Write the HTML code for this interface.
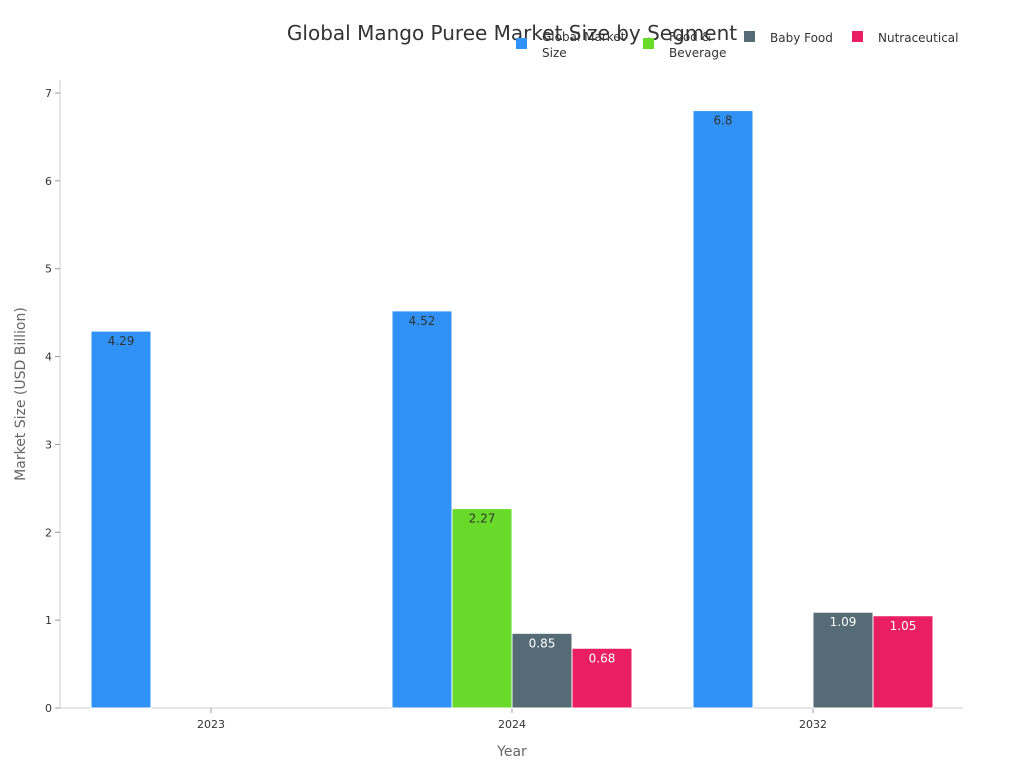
<!DOCTYPE html>
<html><head><meta charset="utf-8"><style>
body{margin:0;background:#fff;font-family:"Liberation Sans","DejaVu Sans",sans-serif;}
</style></head><body>
<svg id="c" width="1024" height="768" xmlns="http://www.w3.org/2000/svg" font-family="DejaVu Sans, Liberation Sans, sans-serif"></svg>
<script>
const categories=["2023","2024","2032"];
const seriesNames=["Global Market Size","Food & Beverage","Baby Food","Nutraceutical"];
const globalMarket=[4.29,4.52,6.8];
const foodBeverage=[null,2.27,null];
const babyFood=[null,0.85,1.09];
const nutraceutical=[null,0.68,1.05];
const yTicks=[0,1,2,3,4,5,6,7];
const series=[globalMarket,foodBeverage,babyFood,nutraceutical];
const colors=["#3092f6","#68db2a","#556b75","#e91e63"];
const labelColors=["#333","#333","#fff","#fff"];
const svg=document.getElementById('c');
const NS="http://www.w3.org/2000/svg";
function mk(t,a,txt){const e=document.createElementNS(NS,t);for(const k in a)e.setAttribute(k,a[k]);if(txt!==undefined)e.textContent=txt;svg.appendChild(e);return e;}
const x0=60,x1=963,y0=708,yTop=93;
const y=v=>y0-(v/7)*(y0-yTop);
const cx=i=>211+i*301;
const bw=60;
let e;
e=mk('text',{x:512,y:40,'font-size':20,'text-anchor':'middle',fill:'#333'},'Global Mango Puree Market Size by Segment');


e=mk('line',{x1:x0,y1:80,x2:x0,y2:y0,stroke:'#ccc'});


e=mk('line',{x1:x0,y1:y0,x2:x1,y2:y0,stroke:'#ccc'});


yTicks.forEach(t=>{
 e=mk('line',{x1:x0-5,x2:x0,y1:y(t),y2:y(t),stroke:'#999'});
 
 
 e=mk('text',{x:x0-8,y:y(t)+4,'font-size':11,'text-anchor':'end',fill:'#333'},t);
 
 
});
categories.forEach((c,i)=>{
 e=mk('line',{x1:cx(i),x2:cx(i),y1:y0,y2:y0+5,stroke:'#999'});
 
 
 e=mk('text',{x:cx(i),y:y0+20,'font-size':11,'text-anchor':'middle',fill:'#333'},c);
 
 
});
e=mk('text',{x:512,y:756,'font-size':14,'text-anchor':'middle',fill:'#666'},'Year');


e=mk('text',{x:0,y:0,'font-size':14,'text-anchor':'middle',fill:'#666',transform:'translate(25,394) rotate(-90)'},'Market Size (USD Billion)');


series.forEach((s,si)=>{
 s.forEach((v,i)=>{
  if(v==null)return;
  const bx=cx(i)+(si-1.5)*bw-bw/2;
  e=mk('rect',{x:bx,y:y(v),width:bw,height:y0-y(v),fill:colors[si],stroke:'#fff','stroke-width':1});
  
  
  e=mk('text',{x:bx+bw/2,y:y(v)+14,'font-size':12,'text-anchor':'middle',fill:labelColors[si]},v);
  
  
 });
});
const leg=[[516,542,["Global Market","Size"]],[643,669,["Food &","Beverage"]],[744,770,["Baby Food"]],[852,878,["Nutraceutical"]]];
leg.forEach((l,i)=>{
 const two=l[2].length>1;
 e=mk('rect',{x:l[0],y:two?38:31,width:11,height:11,fill:colors[i]});
 
 
 l[2].forEach((t,j)=>{
  e=mk('text',{x:l[1],y:(two?41:42)+j*16,'font-size':12,fill:'#333'},t);
  
  
 });
});
</script>
</body></html>
